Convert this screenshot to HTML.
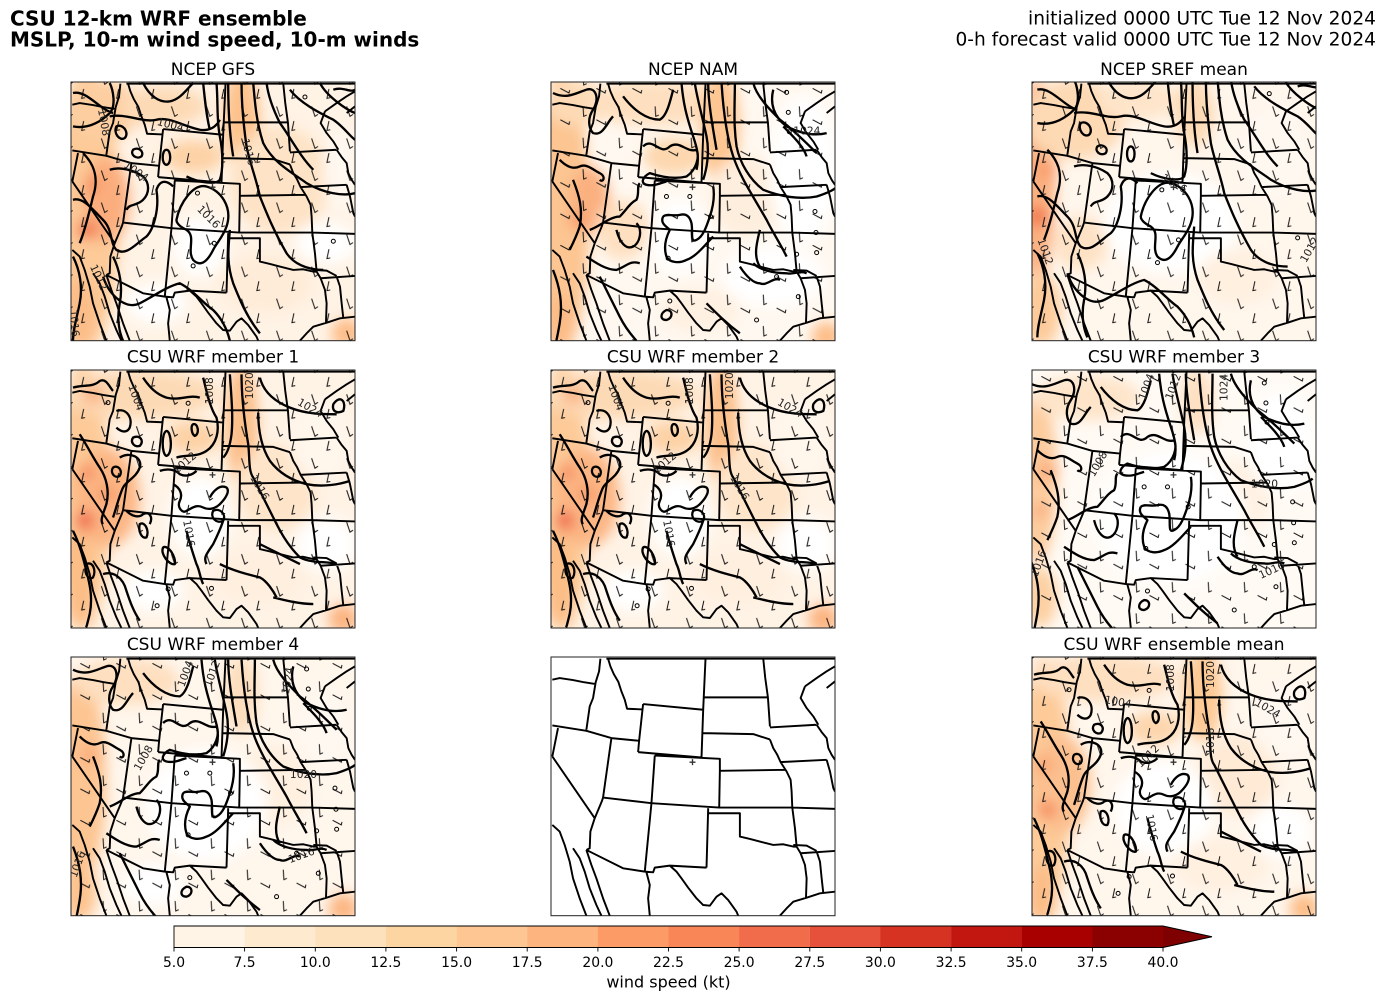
<!DOCTYPE html>
<html>
<head>
<meta charset="utf-8">
<style>
html,body{margin:0;padding:0;background:#fff;width:1387px;height:1001px;overflow:hidden;}
svg{display:block;}
</style>
</head>
<body>
<svg xmlns="http://www.w3.org/2000/svg" width="1387" height="1001" viewBox="0 0 1387 1001" font-family="'DejaVu Sans','Liberation Sans',sans-serif">
<defs>
  <filter id="bl" filterUnits="userSpaceOnUse" x="-100" y="-100" width="1150" height="1050">
    <feGaussianBlur stdDeviation="20"/>
  </filter>
  <pattern id="bA" width="105" height="96" patternUnits="userSpaceOnUse">
    <path d="M20,14 L30,44 L39,38 M72,58 L66,86 L76,84" fill="none" stroke="#111" stroke-width="3"/>
  </pattern>
  <pattern id="bB" width="108" height="94" patternUnits="userSpaceOnUse">
    <path d="M22,16 L24,46 L33,42 M62,56 L88,70 L90,61" fill="none" stroke="#111" stroke-width="3"/>
  </pattern>
  <g id="st">
    <path fill="none" stroke="#000" stroke-width="5.8" stroke-linejoin="round" d="
M182,42 L178,80 L168,112 L160,160 L150,185 L140,255
M38,105 L60,100 L100,106 L130,112 L168,118
M205,42 L212,65 L222,88 L236,112 L245,140 L255,165 L262,192 L308,194
M38,242 L140,258 L215,280 L298,288
M310,178 L298,288 L295,322
M310,178 L490,195
M295,322 L485,338
M497,42 L490,195 L485,338
M492,158 L682,158
M670,42 L676,100 L684,158 L690,245
M490,265 L640,268 L665,276 L690,284
M690,248 L830,240
M830,240 L845,262 L860,280 L865,310 L875,330 L885,345
M795,125 L782,160 L800,190 L820,215 L835,240
M795,125 L830,100 L860,80 L885,65
M860,130 L885,110
M720,352 L860,345
M690,284 L700,310 L712,330 L722,352 L740,380 L752,405 L755,440 L757,488
M540,378 L738,375
M345,332 L540,342 L540,378 L538,488
M345,332 L335,475
M215,280 L190,458
M190,458 L335,475
M335,475 L538,488 L757,488 L885,492
M505,490 L500,668
M505,505 L600,505 L600,575 L630,582 L660,590 L700,600 L730,598 L760,605 L770,605
M757,488 L765,550 L770,605 L782,625
M782,625 L885,618
M782,625 L795,660 L800,700 L798,760
M720,812 L740,790 L760,770 L800,758 L840,745 L885,740
M500,668 L390,662 L345,668 L340,682 L315,680
M335,475 L315,680
M315,680 L250,670 L140,615
M55,250 L38,335
M38,335 L165,520
M190,458 L186,470 L165,520 L152,560 L150,610 L140,615
M390,662 L410,680 L425,700 L445,728 L470,760 L490,780 L510,782 L530,755 L545,745 L565,765 L590,800 L595,812
M320,682 L330,720 L325,760 L330,812
M140,615 L155,660 L170,700 L190,760 L210,812
M38,540 L60,560 L75,600 L90,650 L100,700 L120,760 L140,812
M100,610 L120,640 L135,680 L150,730 L170,780 L185,812
M830,620 L840,650 L845,700 L850,745
M860,345 L870,380 L880,430 L885,440
M760,600 L800,602 L830,618
M200,42 L885,42
"/>
    <path d="M449,352 h18 M458,343 v18" stroke="#333" stroke-width="4"/>
  </g>
  <g id="isoA" fill="none" stroke="#000" stroke-width="7" stroke-linejoin="round">
    <path d="M40,70 C80,60 120,120 160,130
M40,170 C90,180 130,150 150,130 C170,110 160,60 150,40
M170,170 C190,160 210,190 195,205 C180,215 160,190 170,170 Z
M220,240 C235,230 255,245 245,260 C230,270 210,255 220,240 Z
M320,240 C335,240 335,285 320,285 C305,285 305,240 320,240 Z
M150,140 C200,130 250,160 290,150 C330,140 370,170 420,180 C450,185 470,170 480,150
M250,40 C270,80 300,100 330,95 C360,90 380,60 400,40
M70,250 C100,280 120,320 100,380 C90,420 80,470 60,520
M150,300 C180,290 220,300 250,320 C270,340 270,370 250,390 C230,410 210,400 200,420
M40,390 C70,380 100,420 130,450 C160,480 150,520 170,540 C200,560 230,520 260,500 C280,480 300,420 290,360 C300,330 320,330 340,350
M350,450 C360,400 400,340 440,350 C480,360 520,410 500,470 C490,500 470,520 460,540 C440,580 420,590 400,570 C380,540 410,500 380,480 C360,470 350,460 350,450 Z
M430,40 C435,90 440,140 450,180
M470,40 C475,100 470,150 480,200 C490,250 490,300 480,330 C470,345 420,340 380,320
M505,40 C505,120 510,200 520,260
M545,40 C545,100 550,160 560,230 C570,280 590,330 600,380 C620,430 640,480 680,550 C700,580 740,600 790,600
M580,40 C585,100 590,160 610,220 C640,280 700,310 740,340 C790,370 850,380 885,370
M620,40 C625,80 640,120 660,160 C690,200 720,260 760,300
M690,60 C720,100 780,130 820,150 C850,170 870,200 885,210
M780,40 C800,80 860,120 885,130
M130,620 C150,680 200,720 240,700 C280,680 320,650 360,640 C400,660 430,700 460,720 C480,740 500,770 510,812
M510,480 C505,540 500,580 520,640 C540,690 560,740 600,790
M40,560 C60,600 70,650 60,700 C50,750 40,780 40,812
M160,560 C180,600 190,650 180,700 C170,750 180,790 190,812
M820,60 C850,50 870,70 885,60"/>
    <g fill="none" stroke-width="3"><circle cx="735" cy="82" r="6"/><circle cx="820" cy="514" r="6"/><circle cx="400" cy="588" r="6"/><circle cx="413" cy="370" r="6"/><circle cx="463" cy="520" r="6"/></g>
  </g>
  <g id="isoB" fill="none" stroke="#000" stroke-width="7" stroke-linejoin="round">
    <path d="M425,40 C430,100 440,140 460,200 C470,230 480,260 470,300
M465,40 C470,80 490,150 500,200 C510,250 500,300 490,330
M505,40 C505,100 520,180 530,240
M545,40 C550,120 560,200 580,260 C600,320 640,380 680,450 C700,490 720,520 740,560
M585,40 C585,100 580,160 590,230 C600,280 630,330 670,360 C720,380 780,390 830,380 C860,370 880,360 885,355
M640,40 C650,80 690,120 720,150 C760,180 800,220 830,250
M700,60 C690,100 700,140 740,170 C780,190 820,200 860,190
M310,230 C340,200 360,260 390,230 C420,210 440,250 470,240 C480,260 470,300 440,320 C400,330 360,320 330,310 C310,320 300,340 320,345 C345,350 360,340 380,335
M370,440 C380,430 400,440 420,435 C440,430 450,440 455,460 C460,490 450,520 470,510 C490,500 500,470 510,440 C520,410 525,380 520,350
M370,440 C360,460 380,470 390,480 C380,500 370,530 380,560 C390,580 420,580 440,570 C470,560 500,520 520,500
M40,70 C80,90 110,70 140,60 C170,50 180,90 160,120 C140,150 150,180 160,190 C190,200 200,160 220,140
M60,270 C80,290 100,300 120,290 C140,280 160,300 180,310 C200,320 190,340 180,330
M100,330 C120,380 130,420 120,470 C110,500 100,520 90,540
M150,480 C180,470 210,440 240,440 C260,420 270,400 290,390 C300,370 290,350 300,340
M230,480 C240,520 260,540 280,530 C300,520 310,480 290,460
M140,560 C170,580 200,600 230,600 C260,590 270,570 300,580
M250,80 C280,120 320,150 360,150 C380,140 390,100 400,60
M640,580 C660,600 700,610 740,610 C760,615 780,600 800,610
M600,590 C620,620 640,640 660,640 C680,650 700,620 720,630
M500,700 C530,730 560,760 600,790
M380,720 C360,730 360,750 380,750 C400,745 400,720 380,720 Z
M180,620 C200,660 220,700 240,740 C260,780 280,800 290,812
M40,600 C60,650 70,700 60,760 C55,790 50,812 50,812
M660,480 C650,520 640,560 660,590
M730,170 C760,200 790,230 800,260"/>
    <g fill="none" stroke-width="3"><circle cx="380" cy="380" r="6"/><circle cx="450" cy="380" r="6"/><circle cx="512" cy="440" r="6"/><circle cx="385" cy="565" r="6"/><circle cx="740" cy="68" r="6"/><circle cx="745" cy="128" r="6"/><circle cx="748" cy="186" r="6"/><circle cx="825" cy="425" r="6"/><circle cx="828" cy="488" r="6"/><circle cx="770" cy="553" r="6"/><circle cx="830" cy="548" r="6"/><circle cx="710" cy="620" r="6"/><circle cx="775" cy="680" r="6"/><circle cx="650" cy="750" r="6"/><circle cx="390" cy="693" r="6"/></g>
  </g>
  <g id="isoC" fill="none" stroke="#000" stroke-width="7" stroke-linejoin="round">
    <path d="M510,50 C515,120 520,180 515,230 C510,270 500,290 490,300
M545,50 C545,130 555,200 565,260 C570,300 565,340 580,360 C600,400 620,440 640,480 C660,520 680,560 720,600 C760,620 800,610 830,620
M595,165 C595,220 605,270 630,310 C660,350 700,370 740,380 C790,390 840,380 870,370
M600,60 C610,100 640,130 690,150 C740,170 790,170 830,170
M430,60 C440,100 450,150 470,180 C480,220 470,260 440,280 C410,300 380,290 350,300
M820,140 C840,110 860,130 850,160 C830,170 815,160 820,140 Z
M170,160 C200,150 220,180 210,210 C200,230 180,220 170,210
M220,240 C240,230 255,250 240,265 C225,270 210,255 220,240 Z
M320,220 C335,220 340,290 320,295 C305,290 305,225 320,220 Z
M400,200 C415,195 420,230 405,235 C395,230 392,205 400,200 Z
M160,330 C175,320 190,340 180,355 C165,365 150,345 160,330 Z
M180,300 C210,280 250,300 240,330 C230,360 200,370 190,390 C180,410 170,450 160,480
M60,230 C80,260 100,300 120,330 C140,360 150,400 140,440 C130,470 120,490 130,500
M300,340 C330,330 350,340 360,350 C380,360 400,350 410,340
M340,380 C360,390 370,410 360,430 C350,450 370,470 380,460 C400,450 410,440 430,450 C450,460 470,450 480,440 C500,420 510,400 500,390 C480,380 460,400 450,420
M460,460 C480,450 500,470 490,490 C470,500 450,480 460,460 Z
M240,500 C255,490 270,520 260,540 C245,545 235,520 240,500 Z
M310,570 C325,560 350,600 345,620 C330,625 300,590 310,570 Z
M490,490 C480,520 470,540 460,560 C440,590 430,600 440,620
M80,620 C100,610 110,640 100,660 C90,670 70,650 80,620 Z
M200,460 C220,480 240,480 250,470 C270,460 280,480 270,500
M40,520 C60,560 70,600 80,640 C90,680 100,720 90,770 C85,790 80,812 78,812
M130,650 C160,640 190,660 200,700 C210,730 220,760 240,790
M380,520 C390,560 400,590 410,620 C420,640 420,660 430,680
M480,620 C520,640 560,650 600,660 C620,670 640,700 650,720
M600,560 C640,580 680,600 720,620
M640,720 C680,730 720,740 760,740
M40,90 C70,80 100,90 120,70 C140,60 150,90 160,100
M250,60 C270,90 290,110 320,120 C360,130 390,110 420,120"/>
    <g fill="none" stroke-width="3"><circle cx="145" cy="135" r="6"/><circle cx="385" cy="137" r="6"/><circle cx="325" cy="695" r="6"/><circle cx="455" cy="693" r="6"/><circle cx="292" cy="745" r="6"/></g>
  </g>
</defs>

<!-- Titles -->
<text x="10" y="25.5" font-size="20" font-weight="bold" fill="#000">CSU 12-km WRF ensemble</text>
<text x="10" y="46.5" font-size="20" font-weight="bold" fill="#000">MSLP, 10-m wind speed, 10-m winds</text>
<text x="1376" y="24.5" font-size="18.6" text-anchor="end" fill="#000">initialized 0000 UTC Tue 12 Nov 2024</text>
<text x="1376" y="45.5" font-size="18.6" text-anchor="end" fill="#000">0-h forecast valid 0000 UTC Tue 12 Nov 2024</text>

<!-- Panel titles -->
<g font-size="17" text-anchor="middle" fill="#000">
<text x="213" y="75">NCEP GFS</text>
<text x="693" y="75">NCEP NAM</text>
<text x="1174" y="75">NCEP SREF mean</text>
<text x="213" y="362.5">CSU WRF member 1</text>
<text x="693" y="362.5">CSU WRF member 2</text>
<text x="1174" y="362.5">CSU WRF member 3</text>
<text x="213" y="650">CSU WRF member 4</text>
<text x="1174" y="650">CSU WRF ensemble mean</text>
</g>

<!-- GFS -->
<svg x="71" y="82" width="284" height="258.7" viewBox="34 37 851 775" preserveAspectRatio="none">
 <rect x="0" y="0" width="950" height="850" fill="#fff3e6"/>
 <g filter="url(#bl)">
  <ellipse cx="80" cy="420" rx="100" ry="420" fill="#fdca98"/>
  <ellipse cx="130" cy="120" rx="110" ry="90" fill="#fdcea0"/>
  <ellipse cx="140" cy="390" rx="70" ry="130" fill="#fbad7d"/>
  <circle cx="80" cy="480" r="28" fill="#f06e4b"/>
  <circle cx="95" cy="345" r="22" fill="#f48658"/>
  <ellipse cx="310" cy="110" rx="130" ry="60" fill="#fddab6"/>
  <ellipse cx="545" cy="150" rx="55" ry="150" fill="#fdc28c"/>
  <ellipse cx="400" cy="260" rx="90" ry="50" fill="#fdd2a6"/>
  <ellipse cx="660" cy="330" rx="150" ry="160" fill="#fee3c6"/>
  <ellipse cx="55" cy="730" rx="55" ry="110" fill="#fcbd88"/>
  <ellipse cx="620" cy="640" rx="140" ry="90" fill="#ffecd8"/>
  <ellipse cx="420" cy="530" rx="80" ry="90" fill="#fff"/>
  <ellipse cx="800" cy="520" rx="90" ry="60" fill="#fff"/>
  <ellipse cx="840" cy="300" rx="50" ry="120" fill="#fff8f0"/>
  <ellipse cx="290" cy="700" rx="90" ry="60" fill="#fff"/>
  <circle cx="860" cy="790" r="45" fill="#fdbb85"/>
 </g>
 <rect width="950" height="850" fill="url(#bA)"/>
 <use href="#isoA"/>
 <use href="#st"/>
 <g font-size="32" fill="#222">
  <text x="290" y="165" transform="rotate(15 290 165)">1004</text>
  <text x="115" y="120" transform="rotate(80 115 120)">1008</text>
  <text x="190" y="290" transform="rotate(35 190 290)">1004</text>
  <text x="410" y="420" transform="rotate(45 410 420)">1016</text>
  <text x="545" y="210" transform="rotate(75 545 210)">1016</text>
  <text x="90" y="590" transform="rotate(65 90 590)">1012</text>
  <text x="30" y="720" transform="rotate(85 30 720)">1016</text>
 </g>
</svg>
<rect x="71" y="82" width="284" height="258.7" fill="none" stroke="#222" stroke-width="1"/>

<!-- NAM -->
<svg x="551" y="82" width="284" height="258.7" viewBox="34 37 851 775" preserveAspectRatio="none">
 <rect x="0" y="0" width="950" height="850" fill="#fff8f0"/>
 <g filter="url(#bl)">
  <ellipse cx="65" cy="430" rx="85" ry="420" fill="#fcc591"/>
  <ellipse cx="150" cy="390" rx="60" ry="100" fill="#fbb080"/>
  <circle cx="115" cy="450" r="25" fill="#f69868"/>
  <ellipse cx="110" cy="100" rx="90" ry="70" fill="#fddab5"/>
  <ellipse cx="340" cy="100" rx="200" ry="70" fill="#fee0c0"/>
  <ellipse cx="540" cy="170" rx="60" ry="170" fill="#fdc692"/>
  <ellipse cx="400" cy="260" rx="90" ry="55" fill="#fdd7ae"/>
  <ellipse cx="620" cy="380" rx="110" ry="120" fill="#feeedd"/>
  <ellipse cx="250" cy="480" rx="80" ry="90" fill="#fee0c1"/>
  <ellipse cx="420" cy="500" rx="90" ry="110" fill="#fff"/>
  <ellipse cx="790" cy="300" rx="100" ry="220" fill="#fff"/>
  <ellipse cx="700" cy="620" rx="150" ry="90" fill="#fff"/>
  <ellipse cx="480" cy="720" rx="120" ry="70" fill="#fff1e2"/>
  <ellipse cx="60" cy="760" rx="50" ry="80" fill="#fcbb86"/>
  <circle cx="860" cy="800" r="45" fill="#fdbd87"/>
 </g>
 <rect width="950" height="850" fill="url(#bB)"/>
 <use href="#isoB"/>
 <use href="#st"/>
 <g font-size="32" fill="#222">
  <text x="760" y="195">1024</text>
 </g>
</svg>
<rect x="551" y="82" width="284" height="258.7" fill="none" stroke="#222" stroke-width="1"/>

<!-- SREF -->
<svg x="1032" y="82" width="284" height="258.7" viewBox="34 37 851 775" preserveAspectRatio="none">
 <rect x="0" y="0" width="950" height="850" fill="#fff6ec"/>
 <g filter="url(#bl)">
  <ellipse cx="45" cy="330" rx="60" ry="300" fill="#fbb080"/>
  <circle cx="50" cy="440" r="32" fill="#f27850"/>
  <circle cx="80" cy="300" r="30" fill="#f99d6c"/>
  <ellipse cx="160" cy="150" rx="150" ry="120" fill="#fdd9b4"/>
  <ellipse cx="350" cy="90" rx="120" ry="60" fill="#fee5ca"/>
  <ellipse cx="520" cy="130" rx="60" ry="100" fill="#fddab5"/>
  <ellipse cx="180" cy="520" rx="80" ry="80" fill="#fee2c5"/>
  <ellipse cx="450" cy="460" rx="200" ry="150" fill="#fff"/>
  <ellipse cx="760" cy="250" rx="110" ry="150" fill="#fff8f0"/>
  <ellipse cx="60" cy="720" rx="60" ry="110" fill="#fdcb9a"/>
  <ellipse cx="650" cy="620" rx="120" ry="80" fill="#fff0e0"/>
 </g>
 <rect width="950" height="850" fill="url(#bA)"/>
 <use href="#isoA" transform="translate(10 -10)"/>
 <use href="#st"/>
 <g font-size="32" fill="#222">
  <text x="420" y="330" transform="rotate(30 420 330)">1016</text>
  <text x="50" y="510" transform="rotate(70 50 510)">1012</text>
  <text x="855" y="580" transform="rotate(-60 855 580)">1012</text>
 </g>
</svg>
<rect x="1032" y="82" width="284" height="258.7" fill="none" stroke="#222" stroke-width="1"/>

<!-- Member 1 -->
<svg x="71" y="370" width="284" height="258" viewBox="34 37 851 775" preserveAspectRatio="none">
 <rect x="0" y="0" width="950" height="850" fill="#fff3e6"/>
 <g filter="url(#bl)">
  <ellipse cx="70" cy="420" rx="80" ry="400" fill="#fdca98"/>
  <ellipse cx="140" cy="420" rx="100" ry="150" fill="#fcb684"/>
  <circle cx="75" cy="490" r="28" fill="#ef6044"/>
  <circle cx="80" cy="345" r="22" fill="#f5845a"/>
  <circle cx="140" cy="410" r="26" fill="#f79766"/>
  <ellipse cx="240" cy="110" rx="230" ry="75" fill="#fddab6"/>
  <circle cx="100" cy="110" r="30" fill="#fbae7e"/>
  <ellipse cx="545" cy="200" rx="50" ry="180" fill="#fcbf8a"/>
  <ellipse cx="400" cy="240" rx="80" ry="50" fill="#fdd2a6"/>
  <ellipse cx="650" cy="390" rx="120" ry="130" fill="#fee5ca"/>
  <ellipse cx="420" cy="480" rx="90" ry="120" fill="#fff"/>
  <ellipse cx="800" cy="560" rx="90" ry="80" fill="#fff"/>
  <ellipse cx="780" cy="250" rx="90" ry="120" fill="#fff6ec"/>
  <circle cx="850" cy="785" r="45" fill="#fcb27f"/>
  <ellipse cx="55" cy="660" rx="45" ry="150" fill="#fcbd86"/>
  <ellipse cx="600" cy="660" rx="140" ry="80" fill="#ffefdf"/>
  <ellipse cx="280" cy="700" rx="90" ry="60" fill="#fff"/>
 </g>
 <rect width="950" height="850" fill="url(#bA)"/>
 <use href="#isoC"/>
 <use href="#st"/>
 <g font-size="32" fill="#222">
  <text x="205" y="85" transform="rotate(70 205 85)">1004</text>
  <text x="460" y="80" transform="rotate(-90 490 110)">1008</text>
  <text x="595" y="80" transform="rotate(-90 610 110)">1020</text>
  <text x="710" y="140" transform="rotate(30 710 140)">1024</text>
  <text x="350" y="350" transform="rotate(-40 350 350)">1012</text>
  <text x="570" y="360" transform="rotate(60 570 360)">1016</text>
  <text x="370" y="490" transform="rotate(80 370 490)">1016</text>
 </g>
</svg>
<rect x="71" y="370" width="284" height="258" fill="none" stroke="#222" stroke-width="1"/>

<!-- Member 2 -->
<svg x="551" y="370" width="284" height="258" viewBox="34 37 851 775" preserveAspectRatio="none">
 <rect x="0" y="0" width="950" height="850" fill="#fff3e6"/>
 <g filter="url(#bl)">
  <ellipse cx="70" cy="420" rx="80" ry="400" fill="#fdca98"/>
  <ellipse cx="140" cy="420" rx="100" ry="150" fill="#fcb684"/>
  <circle cx="75" cy="490" r="28" fill="#ef6044"/>
  <circle cx="80" cy="345" r="22" fill="#f5845a"/>
  <circle cx="140" cy="410" r="26" fill="#f79766"/>
  <ellipse cx="240" cy="110" rx="230" ry="75" fill="#fddab6"/>
  <circle cx="100" cy="110" r="30" fill="#fbae7e"/>
  <ellipse cx="545" cy="200" rx="50" ry="180" fill="#fcbf8a"/>
  <ellipse cx="400" cy="240" rx="80" ry="50" fill="#fdd2a6"/>
  <ellipse cx="650" cy="390" rx="120" ry="130" fill="#fee5ca"/>
  <ellipse cx="420" cy="480" rx="90" ry="120" fill="#fff"/>
  <ellipse cx="800" cy="560" rx="90" ry="80" fill="#fff"/>
  <ellipse cx="780" cy="250" rx="90" ry="120" fill="#fff6ec"/>
  <circle cx="850" cy="785" r="45" fill="#fcb27f"/>
  <ellipse cx="55" cy="660" rx="45" ry="150" fill="#fcbd86"/>
  <ellipse cx="600" cy="660" rx="140" ry="80" fill="#ffefdf"/>
  <ellipse cx="280" cy="700" rx="90" ry="60" fill="#fff"/>
 </g>
 <rect width="950" height="850" fill="url(#bA)"/>
 <use href="#isoC"/>
 <use href="#st"/>
 <g font-size="32" fill="#222">
  <text x="205" y="85" transform="rotate(70 205 85)">1004</text>
  <text x="460" y="80" transform="rotate(-90 490 110)">1008</text>
  <text x="595" y="80" transform="rotate(-90 610 110)">1020</text>
  <text x="710" y="140" transform="rotate(30 710 140)">1024</text>
  <text x="350" y="350" transform="rotate(-40 350 350)">1012</text>
  <text x="570" y="360" transform="rotate(60 570 360)">1016</text>
  <text x="370" y="490" transform="rotate(80 370 490)">1016</text>
 </g>
</svg>
<rect x="551" y="370" width="284" height="258" fill="none" stroke="#222" stroke-width="1"/>

<!-- Member 3 -->
<svg x="1032" y="370" width="284" height="258" viewBox="34 37 851 775" preserveAspectRatio="none">
 <rect x="0" y="0" width="950" height="850" fill="#fffaf4"/>
 <g filter="url(#bl)">
  <ellipse cx="50" cy="360" rx="60" ry="260" fill="#fdcc9e"/>
  <circle cx="80" cy="340" r="32" fill="#fbad7c"/>
  <circle cx="60" cy="460" r="24" fill="#faad80"/>
  <ellipse cx="200" cy="120" rx="160" ry="70" fill="#fee5ca"/>
  <ellipse cx="530" cy="130" rx="50" ry="100" fill="#fee0c2"/>
  <ellipse cx="640" cy="420" rx="110" ry="110" fill="#fff1e3"/>
  <ellipse cx="60" cy="720" rx="50" ry="90" fill="#fdd0a2"/>
  <ellipse cx="450" cy="480" rx="220" ry="200" fill="#fff"/>
  <ellipse cx="780" cy="250" rx="100" ry="150" fill="#fff"/>
 </g>
 <rect width="950" height="850" fill="url(#bB)"/>
 <use href="#isoB" transform="translate(-10 8)"/>
 <use href="#st"/>
 <g font-size="32" fill="#222">
  <text x="360" y="110" transform="rotate(-70 380 110)">1004</text>
  <text x="440" y="110" transform="rotate(-70 460 110)">1012</text>
  <text x="600" y="110" transform="rotate(-90 620 110)">1024</text>
  <text x="220" y="360" transform="rotate(-60 220 360)">1008</text>
  <text x="690" y="390">1020</text>
  <text x="50" y="660" transform="rotate(-70 50 660)">1016</text>
  <text x="720" y="665" transform="rotate(-25 720 665)">1016</text>
 </g>
</svg>
<rect x="1032" y="370" width="284" height="258" fill="none" stroke="#222" stroke-width="1"/>

<!-- Member 4 -->
<svg x="71" y="657" width="284" height="258.7" viewBox="34 37 851 775" preserveAspectRatio="none">
 <rect x="0" y="0" width="950" height="850" fill="#fff6ec"/>
 <g filter="url(#bl)">
  <ellipse cx="60" cy="400" rx="80" ry="320" fill="#fdc592"/>
  <circle cx="90" cy="330" r="30" fill="#fbad7c"/>
  <ellipse cx="200" cy="110" rx="160" ry="70" fill="#fedfc0"/>
  <ellipse cx="545" cy="150" rx="50" ry="120" fill="#fddebd"/>
  <ellipse cx="640" cy="420" rx="120" ry="120" fill="#fff0e0"/>
  <ellipse cx="440" cy="480" rx="180" ry="170" fill="#fff"/>
  <ellipse cx="60" cy="740" rx="50" ry="90" fill="#fdc28d"/>
  <circle cx="850" cy="790" r="45" fill="#fcb682"/>
  <ellipse cx="280" cy="720" rx="90" ry="60" fill="#fff"/>
  <ellipse cx="790" cy="260" rx="90" ry="130" fill="#fff8f0"/>
 </g>
 <rect width="950" height="850" fill="url(#bB)"/>
 <use href="#isoB" transform="translate(0 5)"/>
 <use href="#st"/>
 <g font-size="32" fill="#222">
  <text x="360" y="110" transform="rotate(-70 380 110)">1004</text>
  <text x="440" y="110" transform="rotate(-70 460 110)">1012</text>
  <text x="670" y="130" transform="rotate(-80 690 130)">1024</text>
  <text x="240" y="380" transform="rotate(-60 240 380)">1008</text>
  <text x="690" y="400">1020</text>
  <text x="50" y="700" transform="rotate(-70 50 700)">1016</text>
  <text x="690" y="655" transform="rotate(-20 690 655)">1016</text>
 </g>
</svg>
<rect x="71" y="657" width="284" height="258.7" fill="none" stroke="#222" stroke-width="1"/>

<!-- Blank map -->
<svg x="551" y="657" width="284" height="258.7" viewBox="34 37 851 775" preserveAspectRatio="none">
 <rect x="0" y="0" width="950" height="850" fill="#fff"/>
 <use href="#st"/>
</svg>
<rect x="551" y="657" width="284" height="258.7" fill="none" stroke="#222" stroke-width="1"/>

<!-- Ensemble mean -->
<svg x="1032" y="657" width="284" height="258.7" viewBox="34 37 851 775" preserveAspectRatio="none">
 <rect x="0" y="0" width="950" height="850" fill="#fff6ec"/>
 <g filter="url(#bl)">
  <ellipse cx="70" cy="420" rx="80" ry="380" fill="#fdca98"/>
  <ellipse cx="120" cy="420" rx="90" ry="150" fill="#fcc08f"/>
  <circle cx="80" cy="495" r="26" fill="#f5865a"/>
  <circle cx="70" cy="360" r="24" fill="#f99f70"/>
  <ellipse cx="250" cy="100" rx="220" ry="70" fill="#fedfc0"/>
  <ellipse cx="545" cy="150" rx="60" ry="140" fill="#fdc994"/>
  <ellipse cx="400" cy="250" rx="80" ry="50" fill="#fdd6ad"/>
  <ellipse cx="650" cy="390" rx="120" ry="120" fill="#feead5"/>
  <ellipse cx="430" cy="490" rx="150" ry="140" fill="#fff"/>
  <ellipse cx="780" cy="560" rx="90" ry="80" fill="#fff"/>
  <ellipse cx="60" cy="750" rx="50" ry="90" fill="#fcbe88"/>
  <circle cx="850" cy="790" r="45" fill="#fcbd87"/>
  <ellipse cx="600" cy="660" rx="140" ry="80" fill="#fff0e0"/>
  <ellipse cx="790" cy="230" rx="90" ry="120" fill="#fff8f0"/>
 </g>
 <rect width="950" height="850" fill="url(#bA)"/>
 <use href="#isoC"/>
 <use href="#st"/>
 <g font-size="32" fill="#222">
  <text x="250" y="175" transform="rotate(10 250 175)">1004</text>
  <text x="460" y="80" transform="rotate(-90 490 110)">1008</text>
  <text x="590" y="80" transform="rotate(-90 610 110)">1020</text>
  <text x="700" y="180" transform="rotate(30 700 180)">1024</text>
  <text x="360" y="370" transform="rotate(-45 360 370)">1012</text>
  <text x="540" y="330" transform="rotate(-90 560 310)">1016</text>
  <text x="375" y="510" transform="rotate(80 375 510)">1016</text>
 </g>
</svg>
<rect x="1032" y="657" width="284" height="258.7" fill="none" stroke="#222" stroke-width="1"/>

<!-- Colorbar -->
<g>
 <rect x="174" y="926" width="70.8" height="21.5" fill="#fff4e6"/>
 <rect x="244.6" y="926" width="70.8" height="21.5" fill="#feeacf"/>
 <rect x="315.3" y="926" width="70.8" height="21.5" fill="#fde1bd"/>
 <rect x="385.9" y="926" width="70.8" height="21.5" fill="#fdd5a2"/>
 <rect x="456.6" y="926" width="70.8" height="21.5" fill="#fdc692"/>
 <rect x="527.2" y="926" width="70.8" height="21.5" fill="#fdb47e"/>
 <rect x="597.9" y="926" width="70.8" height="21.5" fill="#fc9b65"/>
 <rect x="668.5" y="926" width="70.8" height="21.5" fill="#f88657"/>
 <rect x="739.1" y="926" width="70.8" height="21.5" fill="#f16c4b"/>
 <rect x="809.8" y="926" width="70.8" height="21.5" fill="#e5513a"/>
 <rect x="880.4" y="926" width="70.8" height="21.5" fill="#d73323"/>
 <rect x="951.1" y="926" width="70.8" height="21.5" fill="#c21611"/>
 <rect x="1021.7" y="926" width="70.8" height="21.5" fill="#a80000"/>
 <rect x="1092.4" y="926" width="70.6" height="21.5" fill="#8b0000"/>
 <polygon points="1163,926 1212,936.75 1163,947.5" fill="#7f0000"/>
 <path d="M174,926 L1163,926 L1212,936.75 L1163,947.5 L174,947.5 Z" fill="none" stroke="#000" stroke-width="0.9"/>
 <path stroke="#000" stroke-width="0.9" d="M174,947.5 v4 M244.6,947.5 v4 M315.3,947.5 v4 M385.9,947.5 v4 M456.6,947.5 v4 M527.2,947.5 v4 M597.9,947.5 v4 M668.5,947.5 v4 M739.1,947.5 v4 M809.8,947.5 v4 M880.4,947.5 v4 M951.1,947.5 v4 M1021.7,947.5 v4 M1092.4,947.5 v4 M1163,947.5 v4"/>
 <g font-size="13.9" text-anchor="middle" fill="#000">
  <text x="174" y="967">5.0</text>
  <text x="244.6" y="967">7.5</text>
  <text x="315.3" y="967">10.0</text>
  <text x="385.9" y="967">12.5</text>
  <text x="456.6" y="967">15.0</text>
  <text x="527.2" y="967">17.5</text>
  <text x="597.9" y="967">20.0</text>
  <text x="668.5" y="967">22.5</text>
  <text x="739.1" y="967">25.0</text>
  <text x="809.8" y="967">27.5</text>
  <text x="880.4" y="967">30.0</text>
  <text x="951.1" y="967">32.5</text>
  <text x="1021.7" y="967">35.0</text>
  <text x="1092.4" y="967">37.5</text>
  <text x="1163" y="967">40.0</text>
 </g>
 <text x="668.5" y="987.5" font-size="16" text-anchor="middle" fill="#000">wind speed (kt)</text>
</g>
</svg>
</body>
</html>
